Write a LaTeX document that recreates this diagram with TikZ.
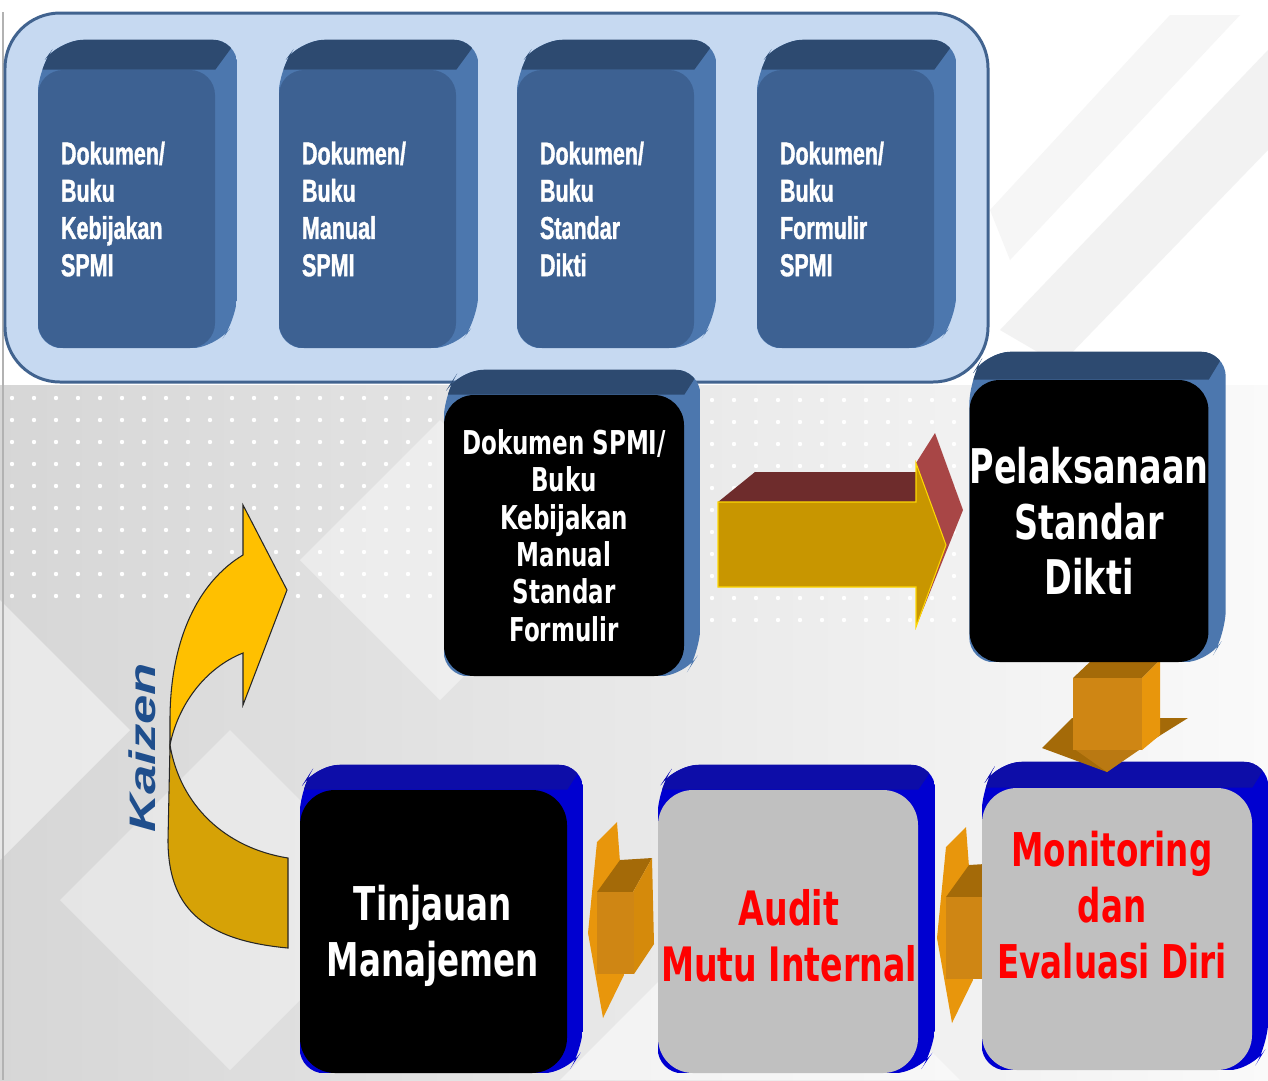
\documentclass[tikz,border=0pt]{standalone}
\usepackage{fontspec}
\usepackage{graphicx}
\usetikzlibrary{calc}
\newfontfamily\docfont[FakeStretch=0.68, FakeBold=1.2]{Liberation Sans Bold}
\newfontfamily\stepfont[FakeStretch=0.7]{DejaVu Sans}
\newfontfamily\kaizenfont{Liberation Sans}
\definecolor{panelfill}{HTML}{C6D9F1}
\definecolor{panelline}{HTML}{41638F}
\definecolor{docfront}{HTML}{3D6192}
\definecolor{doctop}{HTML}{2D4A70}
\definecolor{docside}{HTML}{4C77AE}
\definecolor{bluetop}{HTML}{0D0DA8}
\definecolor{blueside}{HTML}{0000D0}
\definecolor{boxgray}{HTML}{C0C0C0}
\definecolor{arrowgold}{HTML}{C89600}
\definecolor{arrowmaroon}{HTML}{6E2C2C}
\definecolor{arrowred}{HTML}{A84646}
\definecolor{orangefront}{HTML}{CF8614}
\definecolor{orangetop}{HTML}{A46A08}
\definecolor{orangeside}{HTML}{E8960C}
\definecolor{kaizenyellow}{HTML}{FFC000}
\definecolor{kaizengold}{HTML}{D6A206}
\definecolor{kaizenblue}{HTML}{1F4E8C}
\pgfdeclarelayer{bg}
\pgfdeclarelayer{depth}
\pgfdeclarelayer{arrows}
\pgfsetlayers{bg,depth,arrows,main}
\tikzset{face/.style={rounded corners=0.6cm, inner sep=0pt, align=center}}
\tikzset{facesize/.style 2 args={minimum width=#1*0.02cm, minimum height=#2*0.02cm}}
\tikzset{docface/.style={face, fill=docfront, text=white, align=left, text width=2.62cm, facesize={177}{278}, rounded corners=0.5cm, font=\docfont\fontsize{18}{21.2}\selectfont}}
\tikzset{blackface/.style={face, fill=black, text=white}}
\tikzset{grayface/.style={face, fill=boxgray}}
\tikzset{big/.style={align=center, font=\stepfont\bfseries\fontsize{26.5}{31.7}\selectfont}}
% extruded back of a face: node, dx, dy, top colour, side colour
\newcommand{\depthbox}[5]{%
  \begin{pgfonlayer}{depth}
    \begin{scope}
      \path[clip, rounded corners=0.5cm] (#1.south west) -- (#1.north west) -- ($(#1.north west)+(#2,#3)$) -- ($(#1.north east)+(#2,#3)$) -- ($(#1.south east)+(#2,#3)$) -- (#1.south east) -- cycle;
      \fill[#5] (#1.south west) rectangle ($(#1.north east)+(#2,#3)$);
      \fill[#4] (#1.north west) -- ($(#1.north west)+(#2,#3)$) -- ($(#1.north east)+(#2,#3)$) -- (#1.north east) -- cycle;
    \end{scope}
  \end{pgfonlayer}}

\begin{document}
\begin{tikzpicture}[x=0.02cm, y=-0.02cm]
  \useasboundingbox (0,0) rectangle (1268,1080);
  \begin{pgfonlayer}{bg}
    \fill[white] (0,0) rectangle (1268,1080);
    \shade[left color=gray!32, right color=gray!4] (0,385) rectangle (1268,1080);
    % light diamonds
    \fill[white, opacity=0.45] (0,600) -- (130,730) -- (0,860) -- cycle;
    \fill[white, opacity=0.35] (60,900) -- (230,730) -- (400,900) -- (230,1070) -- cycle;
    \fill[white, opacity=0.4] (300,560) -- (440,420) -- (580,560) -- (440,700) -- cycle;
    \fill[white, opacity=0.5] (560,1080) -- (760,880) -- (960,1080) -- cycle;
    \fill[gray!10] (1000,330) -- (1268,50) -- (1268,150) -- (1060,365) -- cycle;
    \fill[gray!7] (990,210) -- (1170,15) -- (1240,15) -- (1010,260) -- cycle;
    \foreach \i in {0,...,19}
      \foreach \j in {0,...,9}
        \fill[white] (12+22*\i,398+22*\j) circle (2.2);
    \foreach \i in {0,...,11}
      \foreach \j in {0,...,10}
        \fill[white] (712+22*\i,400+22*\j) circle (2.2);
    \draw[gray!60, line width=0.8pt] (3,12) -- (3,1080);
    \node[draw=panelline, fill=panelfill, line width=1.7pt, rounded corners=1.1cm,
      facesize={983}{369}] (docs) at (496.5,197.5) {};
  \end{pgfonlayer}

  % the four documents
  \foreach \n/\cx/\lineA/\lineB in {kebijakan/126.5/Kebijakan/SPMI, manual/367.5/Manual/SPMI,
      standar/605.5/Standar/Dikti, formulir/845.5/Formulir/SPMI}{
    \node[docface] (\n) at (\cx,209) {Dokumen/\\Buku\\\lineA\\\lineB};
    \depthbox{\n}{22}{-30}{doctop}{docside}
  }

  \node[blackface, facesize={240}{281}, font=\stepfont\bfseries\fontsize{18.7}{21.3}\selectfont]
    (dokspmi) at (564,535.5) {Dokumen SPMI/\\Buku\\Kebijakan\\Manual\\Standar\\Formulir};
  \depthbox{dokspmi}{16}{-25}{doctop}{docside}

  \node[blackface, facesize={238}{282}, font=\stepfont\bfseries\fontsize{27.2}{31.7}\selectfont]
    (pelaksanaan) at (1089,521) {Pelaksanaan\\Standar\\Dikti};
  \depthbox{pelaksanaan}{17}{-28}{doctop}{docside}

  \node[blackface, facesize={267}{283}, rounded corners=0.7cm] (tinjauan) at (433.5,931.5) {};
  \node[big, text=white] (tinjtext) at (433,936) {Tinjauan\\Manajemen};
  \depthbox{tinjauan}{16}{-25}{bluetop}{blueside}

  \node[grayface, facesize={260}{283}, rounded corners=0.7cm] (audit) at (788,931.5) {};
  \node[big, text=red, font=\stepfont\bfseries\fontsize{27}{31.7}\selectfont] (audittext) at (789,936) {Audit\\Mutu Internal};
  \depthbox{audit}{17}{-25}{bluetop}{blueside}

  \node[grayface, facesize={270}{282}, rounded corners=0.7cm] (monitoring) at (1117,929) {};
  \node[big, text=red] (montext) at (1112,905) {Monitoring\\dan\\Evaluasi Diri};
  \depthbox{monitoring}{16}{-26}{bluetop}{blueside}

  \begin{pgfonlayer}{arrows}
    % right arrow
    \fill[arrowmaroon] (718,502) -- (755,472) -- (916,472) -- (916,502) -- cycle;
    \fill[arrowred] (916,463) -- (935,433) -- (963,510) -- (916,627) -- (946,545) -- cycle;
    \filldraw[fill=arrowgold, draw=yellow!75!orange, line width=0.6pt]
      (718,502) -- (916,502) -- (916,463) -- (946,545) -- (916,627) -- (916,587) -- (718,587) -- cycle;
    % down arrow
    \fill[orangetop] (1072,718) -- (1042,748) -- (1107,772) -- (1140,748) -- (1188,718) -- (1158,718) -- cycle;
    \fill[orangefront!90!black] (1073,748) -- (1107,772) -- (1142,748) -- cycle;
    \fill[orangetop] (1073,678) -- (1092,660) -- (1160,660) -- (1142,678) -- cycle;
    \fill[orangeside] (1142,678) -- (1160,660) -- (1160,735) -- (1142,750) -- cycle;
    \fill[orangefront] (1073,678) rectangle (1142,750);
    % left arrows
    \foreach \ax/\ay in {0/0, 349/5}{
      \begin{scope}[shift={(\ax,\ay)}]
        \fill[orangeside] (617,822) -- (620,862) -- (624,975) -- (603,1018) -- (588,933) -- (597,842) -- cycle;
        \fill[orangetop] (597,892) -- (620,860) -- (652,858) -- (633,892) -- cycle;
        \fill[orangeside!92!black] (633,892) -- (652,858) -- (654,944) -- (634,974) -- cycle;
        \fill[orangefront] (597,892) rectangle (634,974);
      \end{scope}
    }
    % kaizen arrow
    \filldraw[fill=kaizengold, draw=black!85, line width=0.6pt]
      (170,745) .. controls (180,805) and (225,848) .. (288,858) -- (288,948)
      .. controls (200,940) and (168,905) .. (168,840) -- cycle;
    \filldraw[fill=kaizenyellow, draw=black!85, line width=0.6pt]
      (243,505) -- (287,590) -- (243,705) -- (243,653) .. controls (205,668) and (178,705) .. (170,745)
      -- (170,720) .. controls (170,640) and (198,582) .. (243,555) -- cycle;
  \end{pgfonlayer}

  \node[rotate=90, text=kaizenblue, inner sep=0pt] (kaizen) at (142,748)
    {\scalebox{1}[0.7]{\kaizenfont\bfseries\itshape\fontsize{30}{30}\selectfont Kaizen}};
\end{tikzpicture}
\end{document}
